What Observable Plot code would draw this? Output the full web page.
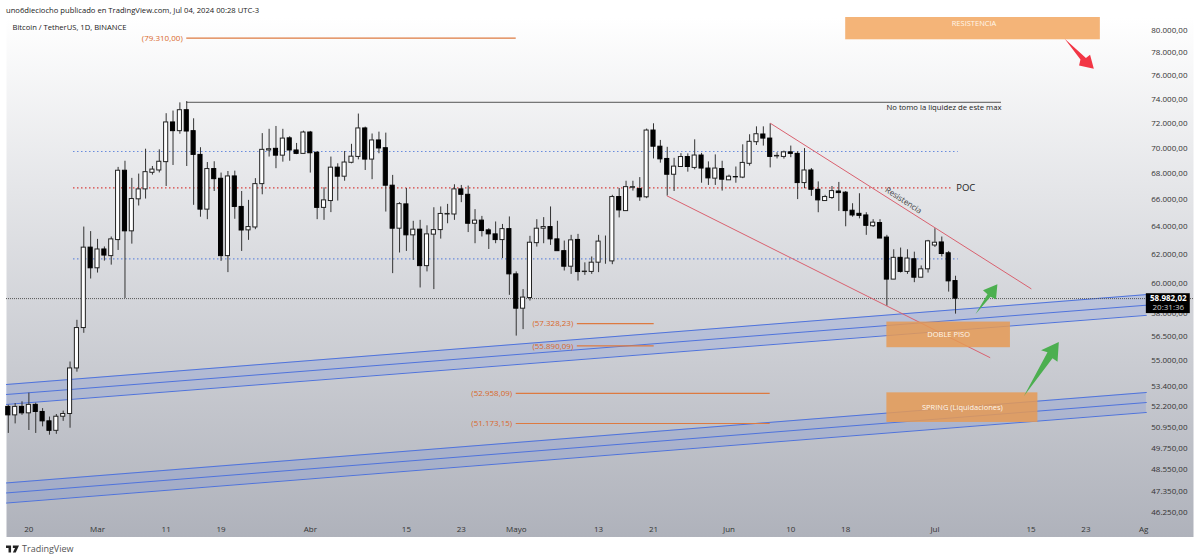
<!DOCTYPE html>
<html>
<head>
<meta charset="utf-8">
<script src="https://cdn.jsdelivr.net/npm/d3@7"></script>
<script src="https://cdn.jsdelivr.net/npm/@observablehq/plot@0.6"></script>
<style>
html,body{margin:0;padding:0;background:#fff;overflow:hidden;width:1200px;height:560px}
#head{height:17px;padding-left:6px;font:7.65px/20px "Open Sans",sans-serif;color:#222;white-space:nowrap}
#foot{height:23px;display:flex;align-items:center;padding-left:6px;font:9px "Open Sans",sans-serif;color:#555}
#foot svg{margin-right:3px}
svg.plot{display:block}
</style>
</head>
<body>
<div id="head">uno6dieciocho publicado en TradingView.com, Jul 04, 2024 00:28 UTC-3</div>
<div id="chart"></div>
<div id="foot"><svg width="13" height="8" viewBox="0 0 36 20"><path fill="#222" d="M0 0h14v20H7V7H0zM19 0h17l-9 20h-8l6-13h-6z"/></svg>TradingView</div>
<script>
// Daily candles, first bar 17 Feb 2024, last bar 4 Jul 2024
const firstBarOffset = -13;
const opens = [
52150,51650,52150,51770,52270,51850,51300,50750,51570,51730,54480,57040,62500,
61050,62370,61900,63040,68210,63670,66030,66780,68050,68230,68880,72060,71350,73070,71350,69450,65260,68340,67590,61900,67770,65460,63740,63950,67180,69800,69930,69390,70770,69800,69530,
71240,69620,65390,65900,68450,67750,68830,69290,71570,69080,70600,69980,67060,63860,65650,63380,63790,61200,63430,63760,64900,64900,66780,66370,64220,64450,63740,63450,63040,63830,
60630,58310,59020,62820,63860,63980,63090,62250,61160,63050,60790,60800,61440,61530,61530,66200,65150,66900,66800,66180,71400,70100,69130,67900,68500,69280,68430,69400,68380,67600,68340,
67470,67720,67680,68750,70460,71080,70750,69330,69290,69650,69530,67260,68230,66750,65900,66130,66620,66530,65180,64950,64830,64040,64270,63220,60270,61780,60800,61680,60400,60980,
62650,62870,62100,60170];
const highs = [
52250,52350,52450,52970,52370,52050,51550,51700,51900,54880,57545,63980,63650,
63090,62550,63260,68470,68950,67620,67950,69900,68540,69850,72780,73000,73680,73790,72360,70020,68850,68910,68030,68150,68180,66620,65950,67600,71150,71500,71730,71500,70900,70360,71350,
71330,69720,66900,69280,68750,69720,70290,72750,71680,71120,71270,71190,67850,65780,66850,64400,64470,64070,65400,65460,65650,67130,67080,67030,65260,64760,63860,64350,64170,64720,
60800,59590,63310,64520,64670,65460,64400,62970,63380,63450,61430,61840,63380,63330,66330,66850,67400,67400,67680,71520,71950,70600,70050,69180,69550,69530,70650,69570,68900,69450,68950,
67870,68500,70250,71060,71700,71700,71950,69620,69750,70150,69700,69950,68380,67350,66330,67000,67310,66620,65700,66450,65030,64520,64520,63380,62350,62470,62350,62180,61210,63020,
63860,63260,62230,60500];
const lows = [
50600,51150,51650,50770,50600,50980,50500,50550,51300,50900,54250,56700,60310,
60720,61550,61270,62300,58990,62750,65530,66050,67870,68040,67000,68620,71100,68540,65580,64700,64520,66620,61530,60750,64550,62230,63020,63790,66370,69280,68370,68880,68950,69470,69530,
68030,64520,64470,65040,65900,67400,68750,69060,68230,67520,69540,65080,60680,62120,62230,61600,59700,60800,59590,63110,64220,64470,65780,63580,62780,63260,62370,62780,61730,59200,
56520,56940,58820,62540,62780,62660,62250,60860,60630,60170,60560,60630,60750,61330,61300,64650,65130,66650,65880,66080,69130,68800,66270,66620,68500,68100,68280,67250,67080,67080,66650,
67470,67250,67600,68570,70200,70150,68430,69130,69120,69230,66010,66830,66250,65030,65900,66020,65130,64000,64700,64580,63380,63950,63150,58470,60270,60720,60630,60060,60400,60720,
62510,61840,59420,57950];
const closes = [
51650,52150,51770,52270,51850,51300,50750,51570,51730,54480,57040,62500,61050,
62370,61940,63090,68210,63670,66050,66780,68100,68300,68910,72060,71350,73070,71320,69450,65260,68340,67560,61900,67770,65460,63730,63980,67180,69850,69900,69390,70750,69800,69530,71240,
69580,65390,65950,68450,67750,68850,69310,71570,69080,70600,69960,67060,63860,65670,63380,63790,61200,63450,63760,64940,64940,66780,66370,64220,64450,63690,63450,63040,63830,60630,
58310,59050,62850,63860,63980,63090,62250,61160,63020,60790,60820,61440,62930,61530,66200,65200,66950,66950,66180,71400,70100,69100,67900,68530,69280,68500,69400,68380,67620,68380,67520,
67750,67700,68820,70490,71100,70750,69290,69370,69650,69530,67260,68230,66750,65950,66200,66650,66500,65150,64830,64800,64070,64300,63150,60270,61780,60800,61730,60400,60980,62950,
62850,62050,60150,58982.02];

// Axis
const priceTicks = [80000,78000,76000,74000,72000,70000,68000,66000,64000,62000,60000,58000,56500,55000,53400,52200,50950,49750,48550,47350,46250];
const timeTickDays = [-10,0,10,18,31,45,53,61,73,81,92,101,109,122,136,144,152.4];
const timeTickLabels = ["20","Mar","11","19","Abr","15","23","Mayo","13","21","Jun","10","18","Jul","15","23","Ag"];

// Price levels with labels (orange)
const levelPrices = [79310,57328.23,55890.09,52958.09,51173.15];
const levelLabels = ["(79.310,00)","(57.328,23)","(55.890,09)","(52.958,09)","(51.173,15)"];
const levelFrom = [13,69.9,69.9,61,61];
const levelTo = [61,81.1,81.1,98,98];

// Dotted levels
const dottedPrices = [69720,66890,61700];
const dottedColors = ["#6a8cdc","#d8403f","#6a8cdc"];
const dottedFrom = [-3.5,-3.5,-3.5];
const dottedTo = [125.4,124.6,125.4];
const lastPrice = 58982.02;

// Channels: [left, right] prices for the top, middle, bottom lines
const channelDays = [-13.26,152.8];
const channelA = {top:[53495,59250],mid:[52890,58540],bot:[52295,57870]};
const channelB = {top:[47830,53010],mid:[47290,52410],bot:[46750,51820]};

// Trend lines
const resistDays = [98.05,136], resistPrices = [71980,59650];
const supportDays = [83,130], supportPrices = [66280,55160];

// Max line
const maxLineDays = [13,131.7], maxLinePrice = 73730;

// Boxes
const boxLabels = ["RESISTENCIA","DOBLE PISO","SPRING (Liquidaciones)"];
const boxFrom = [109,115,115], boxTo = [146.1,133,137];
const boxHigh = [81191,57430,52990], boxLow = [79158,55780,51235];
const boxColors = ["#f4b478","#e59a55","#e59a55"];
const boxOpacity = [1,0.85,0.85];
const boxTextDay = [127.7,124,126], boxTextPrice = [80600,56590,52120];

// Arrows: outline points in days after 1 March and price
const arrowBigDays = [134.95,138.4,137.46,140.05,139.86,139.13];
const arrowBigPrices = [52790,55490,55615,56140,54895,55115];
const arrowSmallDays = [127.9,129.66,129.0,131.1,130.9,130.1];
const arrowSmallPrices = [57940,59270,59540,59950,58940,59100];
const arrowRedDays = [140.9,143.2,143.0,145.15,144.6,144.0];
const arrowRedPrices = [79250,77405,76880,76590,77820,77540];

const MAR1 = Date.UTC(2024,2,1);
const day = n => new Date(MAR1 + n*864e5);
const zip = (ds,ps) => ds.map((d,i)=>({x:day(d),y:ps[i]}));
const candles = opens.map((o,i)=>({
  t:day(i+firstBarOffset), a:day(i+firstBarOffset-0.3), b:day(i+firstBarOffset+0.3),
  o, h:highs[i], l:lows[i], c:closes[i]
}));
const ups = candles.filter(d=>d.c>=d.o), downs = candles.filter(d=>d.c<d.o);
const levels = levelPrices.map((p,i)=>({p,label:levelLabels[i],a:day(levelFrom[i]),b:day(levelTo[i])}));
const dotted = dottedPrices.map((p,i)=>({p,c:dottedColors[i],a:day(dottedFrom[i]),b:day(dottedTo[i])}));
const fmt = d3.formatLocale({decimal:",",thousands:".",grouping:[3],currency:["",""]}).format(",.2f");

const channelLines = [channelA,channelB].flatMap((ch,k)=>["top","mid","bot"].flatMap(n=>
  channelDays.map((d,i)=>({x:day(d),y:ch[n][i],z:k+n}))));
const channelBands = [channelA,channelB].flatMap((ch,k)=>channelDays.map((d,i)=>({x:day(d),y1:ch.bot[i],y2:ch.top[i],z:k})));
const boxes = boxLabels.map((t,i)=>({t,a:day(boxFrom[i]),b:day(boxTo[i]),hi:boxHigh[i],lo:boxLow[i],c:boxColors[i],op:boxOpacity[i],tx:day(boxTextDay[i]),ty:boxTextPrice[i]}));

const font = '"Open Sans",sans-serif';
const defs = () => {
  const s = d3.create("svg:defs");
  const g = s.append("linearGradient").attr("id","bg").attr("x1",0).attr("x2",0).attr("y1",0).attr("y2",1);
  g.append("stop").attr("offset","0%").attr("stop-color","#ffffff");
  g.append("stop").attr("offset","100%").attr("stop-color","#afb2bb");
  return s.node();
};

const chart = Plot.plot({
  width:1200, height:520,
  marginLeft:6, marginRight:7, marginTop:0, marginBottom:0,
  style:{fontFamily:font, background:"transparent"},
  x:{type:"utc", domain:[day(-13.26),day(159.67)], axis:null},
  y:{type:"log", domain:[44954,81191], axis:null},
  marks:[
    defs,
    Plot.frame({fill:"url(#bg)",stroke:"none"}),
    // channels
    Plot.areaY(channelBands,{x:"x",y1:"y1",y2:"y2",z:"z",fill:"#5b7fe0",fillOpacity:0.2}),
    Plot.line(channelLines,{x:"x",y:"y",z:"z",stroke:"#4f73dc",strokeWidth:1,curve:"linear"}),
    // dotted levels
    Plot.ruleY(dotted.slice(0,1).concat(dotted.slice(2)),{y:"p",x1:"a",x2:"b",stroke:dottedColors[0],strokeWidth:1.2,strokeDasharray:"1.5,2.5"}),
    Plot.ruleY(dotted.slice(1,2),{y:"p",x1:"a",x2:"b",stroke:dottedColors[1],strokeWidth:1.2,strokeDasharray:"1.5,2.5"}),
    Plot.ruleY([lastPrice],{stroke:"#555",strokeWidth:1,strokeDasharray:"1,1"}),
    // max line
    Plot.ruleY([maxLinePrice],{x1:day(maxLineDays[0]),x2:day(maxLineDays[1]),stroke:"#555",strokeWidth:1}),
    // orange levels
    Plot.ruleY(levels,{y:"p",x1:"a",x2:"b",stroke:"#dd7a40",strokeWidth:1.2}),
    Plot.text(levels,{x:"a",y:"p",text:"label",textAnchor:"end",dx:-4,fill:"#d9682a",fontSize:8}),
    // candles
    Plot.ruleX(candles,{x:"t",y1:"l",y2:"h",stroke:"#333",strokeWidth:1}),
    Plot.rect(ups,{x1:"a",x2:"b",y1:"o",y2:"c",fill:"#fff",stroke:"#222",strokeWidth:1}),
    Plot.rect(downs,{x1:"a",x2:"b",y1:"o",y2:"c",fill:"#000",stroke:"#000",strokeWidth:1}),
    // trend lines
    Plot.line(zip(resistDays,resistPrices),{x:"x",y:"y",stroke:"#d9606e",strokeWidth:1}),
    Plot.line(zip(supportDays,supportPrices),{x:"x",y:"y",stroke:"#d9606e",strokeWidth:1}),
    // boxes
    Plot.rect(boxes,{x1:"a",x2:"b",y1:"lo",y2:"hi",fill:"c",fillOpacity:"op"}),
    Plot.text(boxes,{x:"tx",y:"ty",text:"t",fill:"#fff6ea",fontSize:7.5}),
    // arrows
    Plot.line(zip(arrowBigDays,arrowBigPrices),{x:"x",y:"y",fill:"#4caf50",stroke:"none"}),
    Plot.line(zip(arrowSmallDays,arrowSmallPrices),{x:"x",y:"y",fill:"#4caf50",stroke:"none"}),
    Plot.line(zip(arrowRedDays,arrowRedPrices),{x:"x",y:"y",fill:"#f23645",stroke:"none"}),
    // annotations
    Plot.text(["No tomo la liquidez de este max"],{x:day(131.7),y:73290,textAnchor:"end",fill:"#222",fontSize:7.7}),
    Plot.text(["POC"],{x:day(125.1),y:66890,textAnchor:"start",fill:"#222",fontSize:9.5}),
    Plot.text(["Resistencia"],{x:day(117.4),y:65950,rotate:33,fill:"#444",fontSize:8}),
    Plot.text(["Bitcoin / TetherUS, 1D, BINANCE"],{frameAnchor:"top-left",dx:6,dy:7,fill:"#222",fontSize:7.6}),
    // price axis
    Plot.text(priceTicks,{y:d=>d,text:d=>fmt(d),frameAnchor:"right",dx:-6,fill:"#333",fontSize:8}),
    // last price badge
    Plot.rect([lastPrice],{x1:day(152.8),x2:day(159.2),y1:57985,y2:59310,fill:"#000"}),
    Plot.text(["58.982,02"],{x:day(156),y:59010,fill:"#fff",fontSize:8,fontWeight:"bold"}),
    Plot.text(["20:31:36"],{x:day(156),y:58400,fill:"#ccc",fontSize:8}),
    // time axis
    Plot.text(timeTickDays,{x:d=>day(d),text:(d,i)=>timeTickLabels[i],frameAnchor:"bottom",dy:-6,fill:"#333",fontSize:8})
  ]
});
document.getElementById("chart").appendChild(chart);
</script>
</body>
</html>
